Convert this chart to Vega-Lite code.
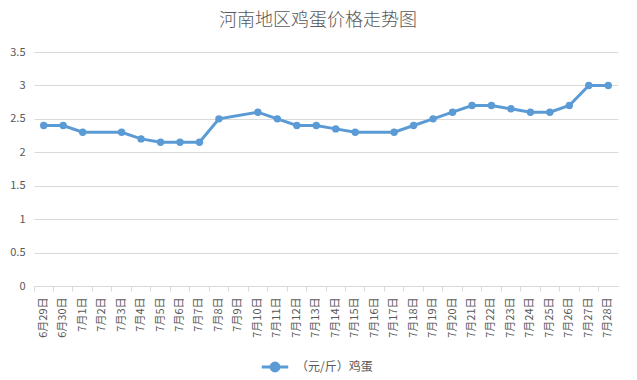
{
  "$schema": "https://vega.github.io/schema/vega-lite/v6.json",
  "autosize": {"type": "none"},
  "width": 584,
  "height": 234,
  "padding": {"left": 34, "top": 52, "right": 19, "bottom": 94},
  "background": "white",
  "title": {
    "text": "河南地区鸡蛋价格走势图",
    "font": "Noto Sans CJK SC",
    "fontSize": 18,
    "fontWeight": 300,
    "color": "#595959",
    "anchor": "middle",
    "dx": -8,
    "offset": 16
  },
  "data": {
    "values": [
      {"date": "6月29日", "price": 2.4, "series": "（元/斤）鸡蛋"},
      {"date": "6月30日", "price": 2.4, "series": "（元/斤）鸡蛋"},
      {"date": "7月1日", "price": 2.3, "series": "（元/斤）鸡蛋"},
      {"date": "7月3日", "price": 2.3, "series": "（元/斤）鸡蛋"},
      {"date": "7月4日", "price": 2.2, "series": "（元/斤）鸡蛋"},
      {"date": "7月5日", "price": 2.15, "series": "（元/斤）鸡蛋"},
      {"date": "7月6日", "price": 2.15, "series": "（元/斤）鸡蛋"},
      {"date": "7月7日", "price": 2.15, "series": "（元/斤）鸡蛋"},
      {"date": "7月8日", "price": 2.5, "series": "（元/斤）鸡蛋"},
      {"date": "7月10日", "price": 2.6, "series": "（元/斤）鸡蛋"},
      {"date": "7月11日", "price": 2.5, "series": "（元/斤）鸡蛋"},
      {"date": "7月12日", "price": 2.4, "series": "（元/斤）鸡蛋"},
      {"date": "7月13日", "price": 2.4, "series": "（元/斤）鸡蛋"},
      {"date": "7月14日", "price": 2.35, "series": "（元/斤）鸡蛋"},
      {"date": "7月15日", "price": 2.3, "series": "（元/斤）鸡蛋"},
      {"date": "7月17日", "price": 2.3, "series": "（元/斤）鸡蛋"},
      {"date": "7月18日", "price": 2.4, "series": "（元/斤）鸡蛋"},
      {"date": "7月19日", "price": 2.5, "series": "（元/斤）鸡蛋"},
      {"date": "7月20日", "price": 2.6, "series": "（元/斤）鸡蛋"},
      {"date": "7月21日", "price": 2.7, "series": "（元/斤）鸡蛋"},
      {"date": "7月22日", "price": 2.7, "series": "（元/斤）鸡蛋"},
      {"date": "7月23日", "price": 2.65, "series": "（元/斤）鸡蛋"},
      {"date": "7月24日", "price": 2.6, "series": "（元/斤）鸡蛋"},
      {"date": "7月25日", "price": 2.6, "series": "（元/斤）鸡蛋"},
      {"date": "7月26日", "price": 2.7, "series": "（元/斤）鸡蛋"},
      {"date": "7月27日", "price": 3.0, "series": "（元/斤）鸡蛋"},
      {"date": "7月28日", "price": 3.0, "series": "（元/斤）鸡蛋"}
    ]
  },
  "mark": {
    "type": "line",
    "strokeWidth": 3,
    "point": {"filled": true, "size": 55, "color": "#5b9bd5"}
  },
  "encoding": {
    "x": {
      "field": "date",
      "type": "ordinal",
      "scale": {
        "type": "band",
        "paddingInner": 0,
        "paddingOuter": 0,
        "domain": ["6月29日","6月30日","7月1日","7月2日","7月3日","7月4日","7月5日","7月6日","7月7日","7月8日","7月9日","7月10日","7月11日","7月12日","7月13日","7月14日","7月15日","7月16日","7月17日","7月18日","7月19日","7月20日","7月21日","7月22日","7月23日","7月24日","7月25日","7月26日","7月27日","7月28日"]
      },
      "axis": {
        "title": null,
        "labelAngle": -90,
        "labelFont": "Noto Sans CJK SC",
        "labelFontSize": 11,
        "labelColor": "#595959",
        "labelPadding": 6,
        "bandPosition": 0,
        "domainColor": "#d9d9d9",
        "tickColor": "#d9d9d9",
        "tickSize": 5,
        "grid": false
      }
    },
    "y": {
      "field": "price",
      "type": "quantitative",
      "scale": {"domain": [0, 3.5], "nice": false},
      "axis": {
        "title": null,
        "values": [0, 0.5, 1, 1.5, 2, 2.5, 3, 3.5],
        "format": ".1~f",
        "labelFont": "Noto Sans CJK SC",
        "labelFontSize": 11,
        "labelColor": "#595959",
        "labelPadding": 9,
        "domain": false,
        "ticks": false,
        "gridColor": "#d9d9d9",
        "gridWidth": 1
      }
    },
    "color": {
      "field": "series",
      "type": "nominal",
      "scale": {"range": ["#5b9bd5"]},
      "legend": {
        "title": null,
        "orient": "none",
        "legendX": 226,
        "legendY": 300,
        "symbolType": "M-1,0L1,0M-0.3,0A0.3,0.3 0 1,1 0.3,0A0.3,0.3 0 1,1 -0.3,0Z",
        "symbolSize": 700,
        "symbolStrokeWidth": 3,
        "labelFont": "Noto Sans CJK SC",
        "labelFontSize": 12,
        "labelColor": "#595959",
        "labelOffset": 6,
        "encode": {"symbols": {"update": {"fill": {"value": "#5b9bd5"}, "stroke": {"value": "#5b9bd5"}}}}
      }
    }
  },
  "config": {"view": {"stroke": null}}
}
